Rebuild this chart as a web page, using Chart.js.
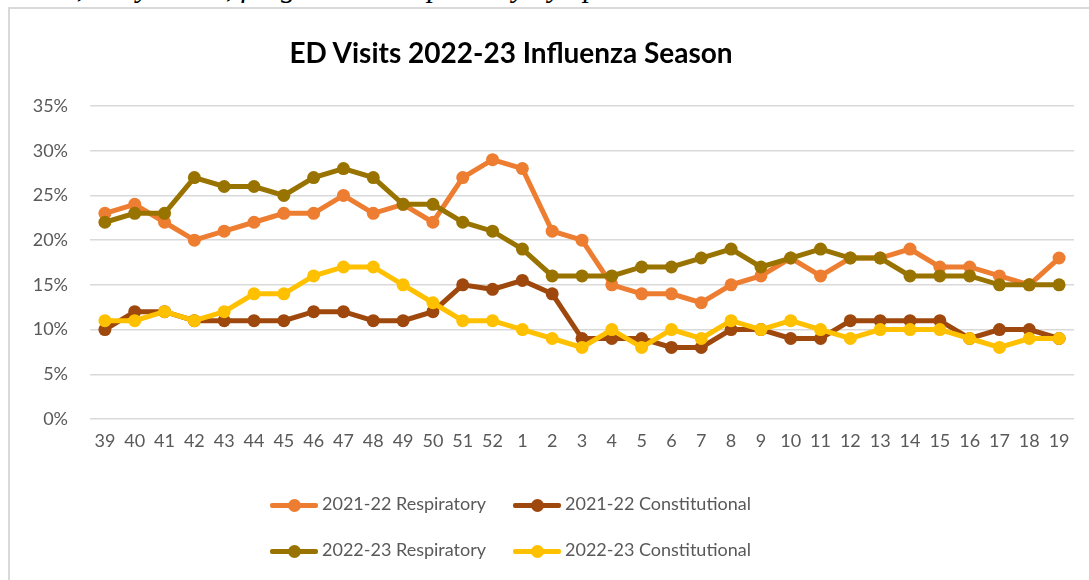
<!DOCTYPE html>
<html>
<head>
<meta charset="utf-8">
<script src="https://cdn.jsdelivr.net/npm/chart.js@4/dist/chart.umd.min.js"></script>
<style>
  html, body { margin: 0; padding: 0; width: 1089px; height: 580px; overflow: hidden; background: #fff; }
  #wrap { position: relative; width: 1089px; height: 580px; overflow: hidden; }
  #frame { position: absolute; left: 8px; top: 7px; width: 1200px; height: 700px; border-left: 2px solid #d9d9d9; border-top: 2px solid #d9d9d9; }
  #caption { position: absolute; left: -4px; top: -29px; font-family: "Liberation Serif", serif; font-style: italic; font-size: 30px; line-height: 32px; color: #000; white-space: nowrap; }
  #title { position: absolute; left: 111px; width: 800px; top: 36px; text-align: center; font-family: Lato, sans-serif; font-weight: bold; font-size: 28px; line-height: 1.2; color: #000; white-space: nowrap; }
  canvas { position: absolute; left: 0; top: 0; }
  .lg { position: absolute; height: 20px; font-family: Lato, sans-serif; font-size: 18px; color: #595959; white-space: nowrap; }
  .mk { position: absolute; left: 0; top: 0; width: 48px; height: 20px; }
  .mk .ln { position: absolute; left: 0; top: 7.5px; width: 48px; height: 5px; border-radius: 2px; }
  .mk .dt { position: absolute; left: 17.5px; top: 3.5px; width: 13px; height: 13px; border-radius: 50%; }
  .lg .tx { position: absolute; left: 52px; top: -2px; line-height: 1.2; }
</style>
</head>
<body>
<div id="wrap">
  <div id="caption">/ chills, body aches, fatigue and Respiratory Symptoms</div>
  <div id="frame"></div>
  <canvas id="c" width="1089" height="580"></canvas>
  <div id="title">ED Visits 2022-23 Influenza Season</div>
  <div id="legend"></div>
</div>
<script>
// ---- Data ----
const weeks = ['39','40','41','42','43','44','45','46','47','48','49','50','51','52','1','2','3','4','5','6','7','8','9','10','11','12','13','14','15','16','17','18','19'];
const resp2122  = [23,24,22,20,21,22,23,23,25,23,24,22,27,29,28,21,20,15,14,14,13,15,16,18,16,18,18,19,17,17,16,15,18];
const const2122 = [10,12,12,11,11,11,11,12,12,11,11,12,15,14.5,15.5,14,9,9,9,8,8,10,10,9,9,11,11,11,11,9,10,10,9];
const resp2223  = [22,23,23,27,26,26,25,27,28,27,24,24,22,21,19,16,16,16,17,17,18,19,17,18,19,18,18,16,16,16,15,15,15];
const const2223 = [11,11,12,11,12,14,14,16,17,17,15,13,11,11,10,9,8,10,8,10,9,11,10,11,10,9,10,10,10,9,8,9,9];
const seriesNames = ['2021-22 Respiratory','2021-22 Constitutional','2022-23 Respiratory','2022-23 Constitutional'];
const yTicks = [0,5,10,15,20,25,30,35];

const colors = ['#ED7D31','#9E480E','#997300','#FFC000'];
const allSeries = [resp2122, const2122, resp2223, const2223];

const datasets = allSeries.map((d, i) => ({
  label: seriesNames[i],
  data: d,
  borderColor: colors[i],
  backgroundColor: colors[i],
  pointBackgroundColor: colors[i],
  pointBorderColor: colors[i],
  borderWidth: 5,
  pointRadius: 6.5,
  pointHoverRadius: 6.5,
  pointBorderWidth: 0,
  tension: 0,
  order: 4 - i
}));

new Chart(document.getElementById('c'), {
  type: 'line',
  data: { labels: weeks, datasets },
  options: {
    responsive: false,
    animation: false,
    layout: { padding: { left: 10, right: 15, top: 106, bottom: 121 } },
    plugins: { legend: { display: false }, title: { display: false }, tooltip: { enabled: false } },
    scales: {
      x: {
        offset: true,
        grid: { display: false, drawTicks: false },
        border: { display: false },
        ticks: { color: '#595959', font: { family: 'Lato', size: 18 }, padding: 11, maxRotation: 0, autoSkip: false },
        afterFit: (s) => { s.height = 40; }
      },
      y: {
        min: 0, max: 35,
        afterBuildTicks: (s) => { s.ticks = yTicks.map(v => ({ value: v })); },
        grid: { color: '#d9d9d9', lineWidth: 1.5, drawTicks: false },
        border: { display: false },
        ticks: { color: '#595959', font: { family: 'Lato', size: 18 }, padding: 22, callback: (v) => v + '%' },
        afterFit: (s) => { s.width = 80; }
      }
    }
  }
});

// HTML legend (2 x 2 grid, as in the reference)
const lg = document.getElementById('legend');
const pos = [[270, 495], [513, 495], [270, 541], [513, 541]];
seriesNames.forEach((n, i) => {
  const d = document.createElement('div');
  d.className = 'lg';
  d.style.left = pos[i][0] + 'px';
  d.style.top = pos[i][1] + 'px';
  d.innerHTML = '<div class="mk"><div class="ln" style="background:' + colors[i] + '"></div><div class="dt" style="background:' + colors[i] + '"></div></div><span class="tx">' + n + '</span>';
  lg.appendChild(d);
});
</script>
</body>
</html>
